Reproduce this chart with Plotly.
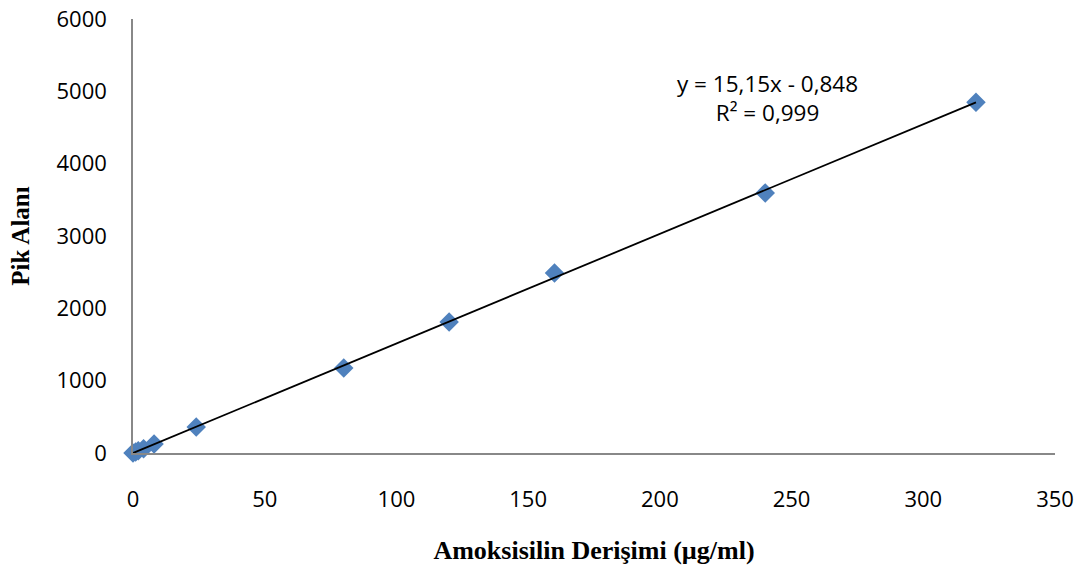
import plotly.graph_objects as go

conc = [0, 1, 2, 4, 8, 24, 80, 120, 160, 240, 320]
area = [0, 15, 30, 60, 125, 360, 1176, 1810, 2490, 3596, 4850]
slope = 15.15
intercept = -0.848
r2_text = "R² = 0,999"
eq_text = "y = 15,15x - 0,848"
x_ticks = [0, 50, 100, 150, 200, 250, 300, 350]
y_ticks = [0, 1000, 2000, 3000, 4000, 5000, 6000]

line_x = [min(conc), max(conc)]
line_y = [slope * v + intercept for v in line_x]

fig = go.Figure()
fig.add_trace(go.Scatter(x=conc, y=area, mode="markers",
                         marker=dict(symbol="diamond", size=15, color="#4F81BD",
                                     line=dict(width=0)),
                         showlegend=False, cliponaxis=False))
fig.add_trace(go.Scatter(x=line_x, y=line_y, mode="lines",
                         line=dict(color="black", width=1.8),
                         showlegend=False, cliponaxis=False))

fig.add_annotation(x=240.7, y=4910, xref="x", yref="y", showarrow=False,
                   text=eq_text + "<br>" + r2_text, yanchor="middle",
                   font=dict(family="Open Sans", size=22.5, color="black"),
                   align="center")

fig.update_layout(
    width=1083, height=568,
    margin=dict(l=133, r=28, t=19, b=115),
    plot_bgcolor="white", paper_bgcolor="white",
    font=dict(family="Open Sans", size=22, color="black"),
)
fig.update_xaxes(range=[0, 350], tickvals=x_ticks, showgrid=False, zeroline=False,
                 showline=True, linecolor="#888888", linewidth=1.5, automargin=False,
                 ticks="", ticklabelstandoff=26, ticklabeloverflow="allow",
                 title=dict(text="Amoksisilin Derişimi (µg/ml)", standoff=29,
                            font=dict(family="Liberation Serif", size=26, color="black",
                                      weight="bold")))
fig.update_yaxes(range=[0, 6000], tickvals=y_ticks, showgrid=False, zeroline=False,
                 showline=True, linecolor="#888888", linewidth=1.5, automargin=False,
                 ticks="", ticklabelstandoff=20, ticklabeloverflow="allow",
                 title=dict(text="Pik Alanı", standoff=20,
                            font=dict(family="Liberation Serif", size=25, color="black",
                                      weight="bold")))

fig.write_html("out.html", config={"displayModeBar": False},
               post_script="document.body.style.margin='0';document.body.style.padding='0';")
